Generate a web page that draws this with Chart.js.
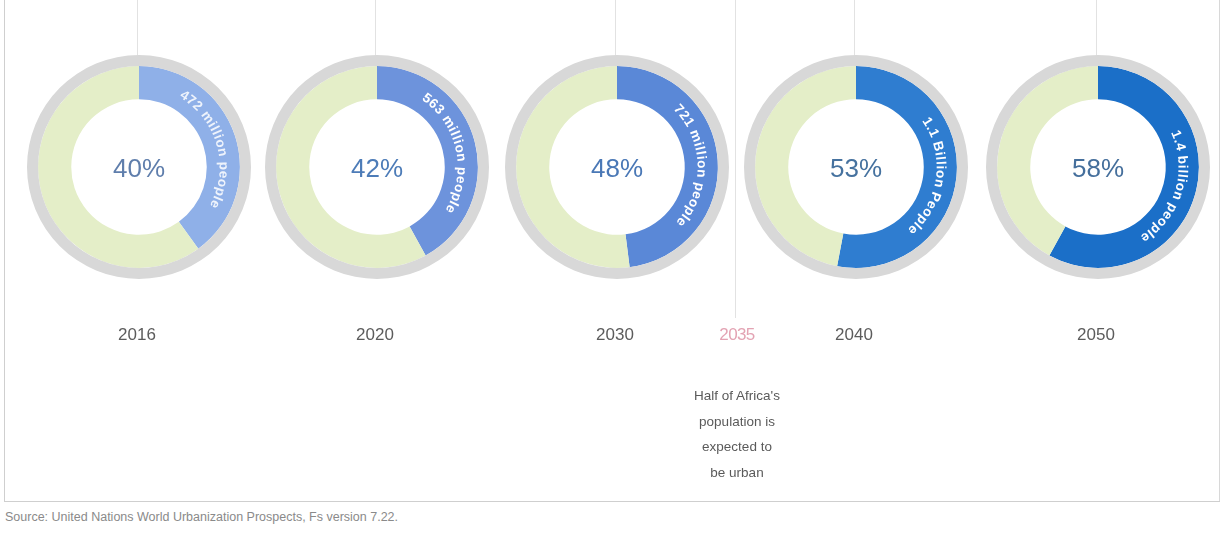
<!DOCTYPE html>
<html>
<head>
<meta charset="utf-8">
<title>Africa urban population share</title>
<script src="https://cdn.jsdelivr.net/npm/chart.js@4.4.1/dist/chart.umd.min.js"></script>
<style>
  html, body { margin: 0; padding: 0; background: #ffffff; }
  body {
    width: 1223px; height: 533px; position: relative; overflow: hidden;
    font-family: "Liberation Sans", Arial, Helvetica, sans-serif;
  }
  .ring { position: absolute; top: 55px; }
  .frame-left  { position: absolute; left: 4px; top: 0; width: 1px; height: 501px; background: #cfcfcf; }
  .frame-right { position: absolute; left: 1219px; top: 0; width: 1px; height: 501px; background: #d8d8d8; }
  .frame-bottom{ position: absolute; left: 4px; top: 501px; width: 1216px; height: 1px; background: #cfcfcf; }
  .tick { position: absolute; top: 0; width: 1px; background: #e2e2e2; }
  .milestone-year {
    position: absolute; left: 707px; top: 325px; width: 60px; text-align: center;
    font-size: 17px; color: #e3a3b3; letter-spacing: -0.6px;
  }
  .milestone-note {
    position: absolute; left: 657px; top: 383px; width: 160px; text-align: center;
    font-size: 13.5px; line-height: 25.5px; color: #5a5a5a;
  }
  .source {
    position: absolute; left: 5px; top: 510px;
    font-size: 12.5px; color: #8a8a8a; white-space: nowrap;
  }
</style>
</head>
<body>
<div class="frame-left"></div>
<div class="frame-right"></div>
<div class="frame-bottom"></div>
<div class="tick" style="left:735px;height:318px;"></div>
<div id="rings"></div>
<div class="milestone-year">2035</div>
<div class="milestone-note">Half of Africa's<br>population is<br>expected to<br>be urban</div>
<div class="source">Source: United Nations World Urbanization Prospects, Fs version 7.22.</div>

<script>
// Urban share of Africa's population, by year
const years = ['2016', '2020', '2030', '2040', '2050'];
const urbanShare = [40, 42, 48, 53, 58];
const urbanCaptions = [
  '472 million people',
  '563 million people',
  '721 million people',
  '1.1 Billion People',
  '1.4 billion people'
];

// Layout and palette
const ringCenters = [139, 377, 617, 856, 1098];
const urbanColors = ['#8fb0e8', '#6d93dc', '#5a88d7', '#2f7dd0', '#1b6fc8'];
const ruralColor = '#e4eec8';
const haloColor = '#d8d8d8';
const pctColors = ['#5f7eac', '#4d7cb8', '#4a78b6', '#46729f', '#456f9c'];

// Draws the centre percentage, the curved caption on the urban arc and the year
const ringText = {
  id: 'ringText',
  afterDatasetsDraw(chart, args, opts) {
    const ctx = chart.ctx;
    const arc = chart.getDatasetMeta(1).data[0];
    const p = arc.getProps(['x', 'y', 'startAngle', 'endAngle', 'innerRadius', 'outerRadius'], true);
    const share = chart.data.datasets[1].data[0];

    ctx.save();
    ctx.textAlign = 'center';
    ctx.textBaseline = 'middle';

    // centre percentage
    ctx.font = '26px "Liberation Sans", Arial, sans-serif';
    ctx.fillStyle = opts.pctColor;
    ctx.fillText(share + '%', p.x, p.y + 3);

    // caption along the arc, clockwise, tops facing outward
    const r = (p.innerRadius + p.outerRadius) / 2;
    ctx.font = 'bold 13.5px "Liberation Sans", Arial, sans-serif';
    ctx.fillStyle = opts.captionColor;
    const chars = Array.from(opts.caption);
    const gap = 0.8;
    const widths = chars.map(c => ctx.measureText(c).width);
    const total = widths.reduce((s, w) => s + w + gap, 0) - gap;
    const mid = (p.startAngle + p.endAngle) / 2 + opts.captionShift;
    let a = mid - total / r / 2;
    chars.forEach((c, i) => {
      const ca = a + widths[i] / 2 / r;
      ctx.save();
      ctx.translate(p.x + r * Math.cos(ca), p.y + r * Math.sin(ca));
      ctx.rotate(ca + Math.PI / 2);
      ctx.fillText(c, 0, 0);
      ctx.restore();
      a += (widths[i] + gap) / r;
    });

    // year label under the ring
    ctx.font = '17px "Liberation Sans", Arial, sans-serif';
    ctx.fillStyle = '#5c5c5c';
    ctx.fillText(chart.data.labels[2], p.x - 2, p.y + 168);
    ctx.restore();
  }
};

const host = document.getElementById('rings');
years.forEach((year, i) => {
  const cx = ringCenters[i];
  // thin timeline tick above each ring
  const tick = document.createElement('div');
  tick.className = 'tick';
  tick.style.left = (cx - 2) + 'px';
  tick.style.height = '56px';
  host.appendChild(tick);

  const canvas = document.createElement('canvas');
  canvas.className = 'ring';
  canvas.width = 224;
  canvas.height = 304;
  canvas.style.left = (cx - 112) + 'px';
  host.appendChild(canvas);

  new Chart(canvas, {
    type: 'doughnut',
    data: {
      labels: ['Urban', 'Rural', year],
      datasets: [
        {
          data: [100],
          backgroundColor: [haloColor],
          borderWidth: 0,
          weight: 11
        },
        {
          data: [urbanShare[i], 100 - urbanShare[i]],
          backgroundColor: [urbanColors[i], ruralColor],
          borderWidth: 0,
          weight: 33
        }
      ]
    },
    options: {
      responsive: false,
      animation: false,
      cutout: '60.5%',
      layout: { padding: { top: 0, left: 0, right: 0, bottom: 80 } },
      plugins: {
        legend: { display: false },
        tooltip: { enabled: false },
        ringText: {
          pctColor: pctColors[i],
          captionColor: i === 0 ? 'rgba(255,255,255,0.85)' : '#ffffff',
          caption: urbanCaptions[i],
          captionShift: 0.04
        }
      }
    },
    plugins: [ringText]
  });
});
</script>
</body>
</html>
